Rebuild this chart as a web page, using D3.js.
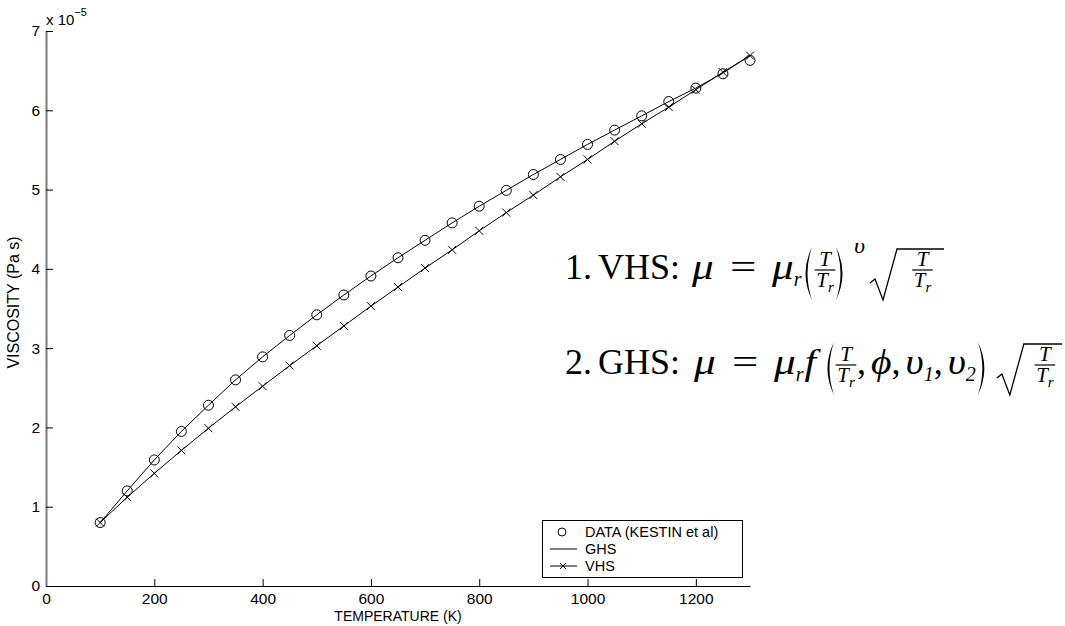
<!DOCTYPE html>
<html>
<head>
<meta charset="utf-8">
<script src="https://cdn.jsdelivr.net/npm/d3@7"></script>
<style>
  body { margin: 0; background: #fff; }
  svg text { fill: #000; }
</style>
</head>
<body>
<div id="chart"></div>
<script>
// Viscosity vs temperature: Kestin data, GHS and VHS models (values x 1e-5 Pa s)
const temps = [100, 150, 200, 250, 300, 350, 400, 450, 500, 550, 600, 650, 700,
               750, 800, 850, 900, 950, 1000, 1050, 1100, 1150, 1200, 1250, 1300];
const dataVisc = [0.80, 1.20, 1.59, 1.95, 2.28, 2.60, 2.89, 3.16, 3.42, 3.67, 3.91, 4.14, 4.36,
                  4.58, 4.79, 4.99, 5.19, 5.38, 5.57, 5.75, 5.93, 6.11, 6.28, 6.46, 6.63];
const ghsVisc = [0.80, 1.20, 1.59, 1.95, 2.28, 2.60, 2.89, 3.16, 3.42, 3.67, 3.91, 4.14, 4.36,
                 4.58, 4.79, 4.99, 5.19, 5.38, 5.57, 5.75, 5.93, 6.11, 6.28, 6.47, 6.69];
const vhsVisc = [0.80, 1.12, 1.42, 1.71, 1.99, 2.26, 2.52, 2.78, 3.03, 3.28, 3.53, 3.77, 4.01,
                 4.24, 4.48, 4.71, 4.93, 5.16, 5.38, 5.61, 5.83, 6.04, 6.26, 6.48, 6.69];
const xTicks = [0, 200, 400, 600, 800, 1000, 1200];
const yTicks = [0, 1, 2, 3, 4, 5, 6, 7];
const legendLabels = ['DATA (KESTIN et al)', 'GHS', 'VHS'];

const sansFont = "'Liberation Sans', Arial, Helvetica, sans-serif";
const serifFont = "'Liberation Serif', 'DejaVu Serif', 'Times New Roman', serif";

function createChart() {
    const width = 1065, height = 626;
    const plot = { left: 46, right: 750, top: 31, bottom: 586 };

    const svg = d3.select('#chart').append('svg')
        .attr('width', width)
        .attr('height', height)
        .style('font-family', sansFont);

    const x = d3.scaleLinear().domain([0, 1300]).range([plot.left, plot.right]);
    const y = d3.scaleLinear().domain([0, 7]).range([plot.bottom, plot.top]);

    // axes (ticks point inward, like matlab)
    const xAxis = svg.append('g')
        .attr('transform', `translate(0,${plot.bottom})`)
        .call(d3.axisBottom(x).tickValues(xTicks).tickFormat(d3.format('d'))
            .tickSizeInner(-7).tickSizeOuter(0).tickPadding(7));
    xAxis.select('.domain').attr('stroke', '#000');
    xAxis.selectAll('.tick line').attr('stroke', '#000');
    xAxis.selectAll('text').attr('font-size', 15.5).attr('font-family', sansFont);

    const yAxis = svg.append('g')
        .attr('transform', `translate(${plot.left},0)`)
        .call(d3.axisLeft(y).tickValues(yTicks).tickFormat(d3.format('d'))
            .tickSizeInner(-7).tickSizeOuter(0).tickPadding(6));
    yAxis.select('.domain').attr('stroke', '#7a7a7a').attr('stroke-width', 2);
    yAxis.selectAll('.tick line').attr('stroke', '#000');
    yAxis.selectAll('text').attr('font-size', 15.5).attr('font-family', sansFont);

    // exponent label
    const expo = svg.append('text').attr('x', plot.left).attr('y', 25).attr('font-size', 15);
    expo.append('tspan').text('x 10');
    expo.append('tspan').attr('dy', -9).attr('font-size', 11).text('\u22125');

    // axis titles
    svg.append('text')
        .attr('x', (plot.left + plot.right) / 2)
        .attr('y', 621)
        .attr('text-anchor', 'middle')
        .attr('font-size', 14)
        .text('TEMPERATURE (K)');
    svg.append('text')
        .attr('transform', `translate(19,${(plot.top + plot.bottom) / 2 - 6}) rotate(-90)`)
        .attr('text-anchor', 'middle')
        .attr('font-size', 16)
        .text('VISCOSITY (Pa s)');

    const pts = (vals) => temps.map((t, i) => [x(t), y(vals[i])]);
    const line = d3.line();

    // GHS solid line
    svg.append('path')
        .attr('d', line(pts(ghsVisc)))
        .attr('fill', 'none').attr('stroke', '#000').attr('stroke-width', 1);

    // VHS line with x markers
    svg.append('path')
        .attr('d', line(pts(vhsVisc)))
        .attr('fill', 'none').attr('stroke', '#000').attr('stroke-width', 1);
    const cross = (g, cx, cy, s) => {
        g.append('path')
            .attr('d', `M${cx - s},${cy - s}L${cx + s},${cy + s}M${cx - s},${cy + s}L${cx + s},${cy - s}`)
            .attr('stroke', '#000').attr('stroke-width', 1).attr('fill', 'none');
    };
    const vhsG = svg.append('g');
    pts(vhsVisc).forEach(p => cross(vhsG, p[0], p[1], 4));

    // data circles
    svg.append('g').selectAll('circle')
        .data(pts(dataVisc))
        .join('circle')
        .attr('cx', d => d[0]).attr('cy', d => d[1]).attr('r', 5)
        .attr('fill', 'none').attr('stroke', '#000').attr('stroke-width', 1);

    // legend
    const lg = svg.append('g');
    lg.append('rect')
        .attr('x', 542.5).attr('y', 520.5).attr('width', 200).attr('height', 57)
        .attr('fill', '#fff').attr('stroke', '#000').attr('stroke-width', 1);
    const rowY = [532, 549, 566];
    lg.append('circle').attr('cx', 562).attr('cy', rowY[0]).attr('r', 4)
        .attr('fill', 'none').attr('stroke', '#000');
    lg.append('line').attr('x1', 550).attr('x2', 577).attr('y1', rowY[1]).attr('y2', rowY[1]).attr('stroke', '#000');
    lg.append('line').attr('x1', 550).attr('x2', 577).attr('y1', rowY[2]).attr('y2', rowY[2]).attr('stroke', '#000');
    cross(lg, 563, rowY[2], 3);
    legendLabels.forEach((lab, i) => {
        lg.append('text').attr('x', 585).attr('y', rowY[i] + 5).attr('font-size', 14.5).text(lab);
    });

    drawFormulas(svg);
}

// ---- formula typesetting (rough latex look-alike) ----
function drawFormulas(svg) {
    const fg = svg.append('g').style('font-family', serifFont);
    const F = 36;      // main math size
    const S = 21;      // fraction / superscript size
    const SUB = 20;    // subscript size

    const measure = (sel) => sel.node().getComputedTextLength();
    // sx stretches glyphs a bit to get closer to computer modern widths
    const put = (cur, s, size, it, dy = 0, sx = 1) => {
        const t = fg.append('text')
            .attr('transform', `translate(${cur.x},${cur.base + dy}) scale(${sx},1)`)
            .attr('font-size', size).attr('font-style', it ? 'italic' : 'normal').text(s);
        cur.x += measure(t) * sx;
        return t;
    };
    const sub = (cur, s, size) => put(cur, s, size, true, size * 0.35);
    const textWidth = (s, size) => {
        const t = fg.append('text').attr('font-size', size).attr('font-style', 'italic').text(s);
        const w = measure(t); t.remove(); return w;
    };
    const paren = (cur, left, top, bottom) => {
        const w = 10, ym = (top + bottom) / 2;
        const xo = left ? cur.x + w : cur.x;
        const d = left
            ? `M${xo},${top}Q${xo - 13},${ym} ${xo},${bottom}Q${xo - 9},${ym} ${xo},${top}Z`
            : `M${xo},${top}Q${xo + 13},${ym} ${xo},${bottom}Q${xo + 9},${ym} ${xo},${top}Z`;
        fg.append('path').attr('d', d).attr('fill', '#000');
        cur.x += w + 1;
    };
    // T over T_r, centred on cx
    const fracT = (cx, base) => {
        const bar = base - 9;
        const nw = textWidth('T', S);
        const dw = textWidth('T', S) + textWidth('r', S * 0.72);
        const w = Math.max(nw, dw) + 3;
        fg.append('line').attr('x1', cx - w / 2).attr('x2', cx + w / 2)
            .attr('y1', bar).attr('y2', bar).attr('stroke', '#000').attr('stroke-width', 1.2);
        put({ x: cx - nw / 2, base: bar - 4 }, 'T', S, true);
        const dc = { x: cx - dw / 2, base: bar + 17 };
        put(dc, 'T', S, true); sub(dc, 'r', S * 0.72);
        return w;
    };
    const sqrtFrac = (x0, x1, top, bottom, base) => {
        const ym = bottom - 20;
        fg.append('path')
            .attr('d', `M${x0},${ym + 3}L${x0 + 5},${ym - 1}L${x0 + 13},${bottom}L${x0 + 27},${top}L${x1},${top}`)
            .attr('fill', 'none').attr('stroke', '#000').attr('stroke-width', 1.3)
            .attr('stroke-linejoin', 'miter');
        fracT((x0 + 27 + x1) / 2 + 2, base);
    };

    // line 1: VHS
    const b1 = 279;
    put({ x: 565, base: b1 }, '1.', F, false);
    put({ x: 598, base: b1 }, 'VHS:', F, false);
    put({ x: 692, base: b1 }, '\u03BC', F, true, 0, 1.2);
    put({ x: 730, base: b1 }, '=', F, false, 0, 1.3);
    let c = { x: 772, base: b1 };
    put(c, '\u03BC', F, true, 0, 1.2); sub(c, 'r', SUB);
    c.x = 802;
    paren(c, true, b1 - 32, b1 + 21);
    fracT(825, b1);
    c.x = 836;
    paren(c, false, b1 - 32, b1 + 21);
    put({ x: 854, base: b1 - 26 }, '\u03C5', S, true, 0, 1.15);
    sqrtFrac(870, 944, b1 - 30, b1 + 21, b1);

    // line 2: GHS
    const b2 = 374;
    put({ x: 565, base: b2 }, '2.', F, false);
    put({ x: 598, base: b2 }, 'GHS:', F, false);
    put({ x: 694, base: b2 }, '\u03BC', F, true, 0, 1.2);
    put({ x: 732, base: b2 }, '=', F, false, 0, 1.3);
    c = { x: 774, base: b2 };
    put(c, '\u03BC', F, true, 0, 1.2); sub(c, 'r', SUB);
    c.x += 1;
    put(c, 'f', F, true, 0, 1.15);
    c.x += 8;
    paren(c, true, b2 - 32, b2 + 21);
    fracT(c.x + 11, b2);
    c.x += 22;
    put(c, ',', F, false); c.x += 5;
    put(c, '\u03D5', F, true, 0, 1.1);
    put(c, ',', F, false); c.x += 5;
    put(c, '\u03C5', F, true, 0, 1.1); sub(c, '1', SUB);
    put(c, ',', F, false); c.x += 5;
    put(c, '\u03C5', F, true, 0, 1.1); sub(c, '2', SUB);
    c.x += 2;
    paren(c, false, b2 - 32, b2 + 21);
    sqrtFrac(Math.max(c.x + 8, 985), 1062, b2 - 30, b2 + 21, b2);
}

document.addEventListener('DOMContentLoaded', () => {
    createChart();
});
</script>
</body>
</html>
